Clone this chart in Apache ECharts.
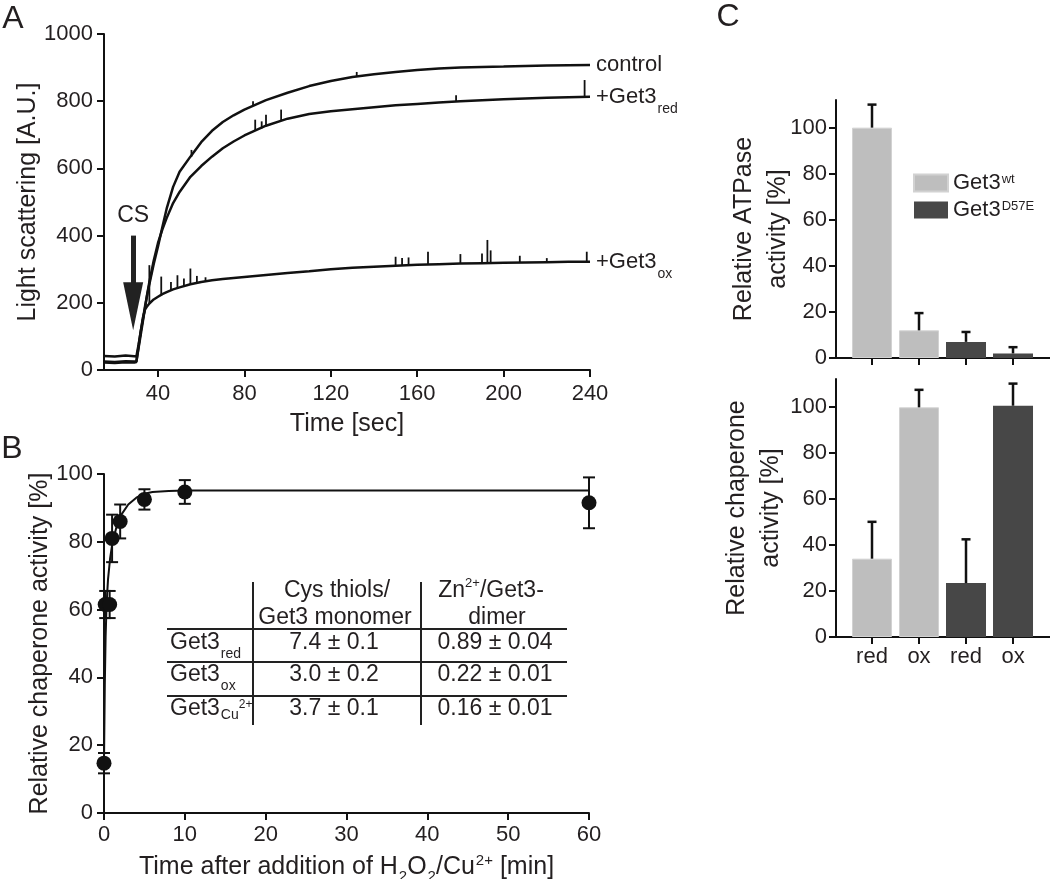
<!DOCTYPE html>
<html><head><meta charset="utf-8">
<script src="https://cdn.jsdelivr.net/npm/echarts@6/dist/echarts.min.js"></script>
<style>html,body{margin:0;padding:0;background:#fff}#c{width:1050px;height:879px}</style>
</head><body><div id="c"></div>
<script>
// ---------- Panel A: light scattering traces ----------
const timeA    = [15, 20, 25, 29, 30, 31, 32, 33, 34, 35, 36, 38, 40, 42, 44, 47, 50, 55, 60, 65, 70, 75, 80, 90, 100, 110, 120, 130, 140, 150, 160, 170, 180, 190, 200, 210, 220, 230, 240];
const controlA = [42, 40, 43, 41, 40, 75, 115, 150, 190, 225, 255, 315, 368, 425, 480, 545, 590, 635, 678, 712, 738, 758, 775, 803, 825, 845, 860, 872, 880, 887, 893, 897, 900, 902, 903, 905, 906, 907, 908];
const redA     = [25, 24, 26, 25, 26, 65, 105, 145, 185, 225, 262, 325, 378, 418, 452, 497, 530, 575, 607, 635, 660, 680, 698, 727, 748, 762, 770, 776, 782, 788, 792, 796, 800, 803, 806, 808, 810, 812, 813];
const oxA      = [22, 21, 23, 22, 24, 70, 115, 155, 180, 190, 198, 210, 218, 226, 232, 240, 246, 255, 262, 267, 271, 274, 277, 283, 289, 294, 300, 304, 307, 310, 313, 315, 317, 318, 319, 320, 321, 322, 322];
// noise spikes: [time, base, top]
const controlSpikes = [[55.5, 635, 655], [84, 786, 800], [132, 873, 887]];
const redSpikes = [[85, 712, 745], [88, 719, 740], [90, 727, 760], [97, 742, 775], [178, 800, 818], [237.5, 813, 863]];
const oxSpikes = [[36, 198, 312], [41.5, 222, 278], [46, 238, 262], [49, 244, 282], [52, 250, 272], [55, 255, 302], [58, 259, 280], [62, 264, 276],
  [150, 310, 337], [153, 311, 333], [156, 312, 335], [165, 315, 352], [180, 317, 345], [190, 318, 347], [192.5, 318, 387], [194, 318, 356], [207.5, 320, 340], [220, 321, 333], [238.5, 322, 352]];
const ticksA = [40, 80, 120, 160, 200, 240];

// ---------- Panel B: chaperone activity vs time ----------
const timeB = [0, 0.15, 0.7, 1, 2, 5, 10, 60];
const meanB = [14.7, 61.5, 61.5, 81, 86, 92.5, 94.7, 91.5];
const errB  = [3, 4, 4, 7, 5, 3, 3.5, 7.5];
const fitT  = [0, 0.1, 0.2, 0.3, 0.4, 0.5, 0.75, 1, 1.5, 2, 3, 4, 5, 6, 8, 10, 15, 60];
const fitV  = [15, 38, 52, 60, 65, 69, 75, 79, 84, 87.5, 91, 93, 94.2, 94.7, 95, 95.1, 95.1, 95.1];
// table
const tableHead1 = ['Cys thiols/', 'Get3 monomer'];
const tableHead2 = ['{m|Zn}{p|2+}{m|/Get3-}', '{m|dimer}'];
const tableRows = ['{m|Get3}{s|red}', '{m|Get3}{s|ox}', '{m|Get3}{s2|Cu}{p2|2+}'];
const cysThiols = ['7.4 ± 0.1', '3.0 ± 0.2', '3.7 ± 0.1'];
const znPerDimer = ['0.89 ± 0.04', '0.22 ± 0.01', '0.16 ± 0.01'];

// ---------- Panel C: bars ----------
const cCats = ['red', 'ox', 'red', 'ox'];
const atpWt = [100, 12], atpWtErr = [10, 7.5];
const atpMut = [7, 2], atpMutErr = [4.3, 2.7];
const chapWt = [34, 99.7], chapWtErr = [16, 7.6];
const chapMut = [23.4, 100.4], chapMutErr = [19, 9.6];
const cTicks = [0, 20, 40, 60, 80, 100];

const FF = "'Liberation Sans', Arial, Helvetica, sans-serif";
const TXT = '#231f20';
const INK = '#111';

function richSet(fs) {
  return {
    m: {fontSize: fs, fontFamily: FF, color: TXT, fill: TXT, verticalAlign: 'top', padding: [8, 0, 8, 0]},
    s: {fontSize: 14, fontFamily: FF, color: TXT, fill: TXT, verticalAlign: 'top', padding: [24, 0, 0, 1]},
    s2: {fontSize: 14, fontFamily: FF, color: TXT, fill: TXT, verticalAlign: 'top', padding: [19, 0, 0, 1]},
    p2: {fontSize: 12, fontFamily: FF, color: TXT, fill: TXT, verticalAlign: 'top', padding: [9, 0, 0, 0]},
    p: {fontSize: 13, fontFamily: FF, color: TXT, fill: TXT, verticalAlign: 'top', padding: [5, 0, 0, 0]}
  };
}
const richBase = richSet(22);
const richTable = richSet(23);

function axisBase() {
  return {
    axisLine: {show: true, onZero: false, lineStyle: {color: INK, width: 2}},
    axisTick: {show: true, inside: false, length: 7, lineStyle: {color: INK, width: 2}},
    axisLabel: {color: TXT, fontSize: 22, fontFamily: FF, margin: 11, formatter: v => String(v)},
    splitLine: {show: false},
    nameLocation: 'middle',
    nameTextStyle: {color: TXT, fontSize: 25, fontFamily: FF}
  };
}
function mk(extra) {
  const b = axisBase();
  for (const k in extra) {
    if (b[k] && typeof b[k] === 'object' && !Array.isArray(b[k]) && typeof extra[k] === 'object') b[k] = Object.assign({}, b[k], extra[k]);
    else b[k] = extra[k];
  }
  return b;
}

function errRender(cap, both, lw) {
  return function (params, api) {
    const x = api.value(0), lo = api.value(1), hi = api.value(2);
    const a = api.coord([x, lo]), b = api.coord([x, hi]);
    const st = {stroke: INK, lineWidth: lw};
    const ch = [{type: 'line', shape: {x1: a[0], y1: a[1], x2: b[0], y2: b[1]}, style: st}];
    if (cap) {
      ch.push({type: 'line', shape: {x1: b[0] - cap / 2, y1: b[1], x2: b[0] + cap / 2, y2: b[1]}, style: st});
      if (both) ch.push({type: 'line', shape: {x1: a[0] - cap / 2, y1: a[1], x2: a[0] + cap / 2, y2: a[1]}, style: st});
    }
    return {type: 'group', children: ch};
  };
}

const pairs = (xs, ys) => xs.map((x, i) => [x, ys[i]]);
const lineA = (name, vals, label) => ({
  type: 'line', name: name, xAxisIndex: 0, yAxisIndex: 0, data: pairs(timeA, vals),
  showSymbol: false, symbol: 'none', lineStyle: {color: INK, width: 2.5}, itemStyle: {color: INK}, silent: true,
  endLabel: {show: true, formatter: label, distance: 6, color: TXT, fontSize: 22, fontFamily: FF, rich: richBase}
});

const seriesA_ox = lineA('ox', oxA, '{m|+Get3}{s|ox}');
seriesA_ox.markLine = {
  silent: true, animation: false,
  symbol: ['none', 'triangle'],
  lineStyle: {color: '#222', width: 5, type: 'solid'},
  label: {show: true, position: 'start', formatter: 'CS', color: TXT, fontSize: 23, fontFamily: FF, distance: 8},
  data: [[{coord: [28.5, 400], symbol: 'none'}, {coord: [28.5, 190], symbol: 'triangle', symbolSize: [20, 48], itemStyle: {color: '#222'}}]]
};

const gText = (x, y, text, align, size, rich) => ({
  type: 'text', x: x, y: y, silent: true,
  style: {text: text, fill: TXT, fontSize: size || 23, fontFamily: FF, align: align || 'center', verticalAlign: 'middle', rich: rich || richTable}
});
const gLine = (x1, y1, x2, y2) => ({type: 'line', silent: true, shape: {x1, y1, x2, y2}, style: {stroke: '#222', lineWidth: 2}});

const tableRowY = [643, 675, 709];
const graphic = [
  gText(13, 19, 'A', 'center', 32),
  gText(12, 449, 'B', 'center', 32),
  gText(728, 17, 'C', 'center', 32),
  gLine(253, 582, 253, 725), gLine(421, 582, 421, 725),
  gLine(167, 629, 567, 629), gLine(167, 662, 567, 662), gLine(167, 696, 567, 696),
  gText(337, 591, tableHead1[0]), gText(335, 618, tableHead1[1]),
  gText(491, 591, tableHead2[0]), gText(497, 618, tableHead2[1])
];
tableRows.forEach((r, i) => {
  graphic.push(gText(170, tableRowY[i], r, 'left'));
  graphic.push(gText(334, tableRowY[i], cysThiols[i]));
  graphic.push(gText(495, tableRowY[i], znPerDimer[i]));
});

const cX = [1, 2, 3, 4];
const option = {
  animation: false,
  backgroundColor: '#fff',
  textStyle: {fontFamily: FF},
  grid: [
    {left: 104, top: 34, width: 486, height: 336, outerBoundsMode: 'none'},
    {left: 104, top: 474, width: 485, height: 339, outerBoundsMode: 'none'},
    {left: 836, top: 100, width: 214, height: 258, outerBoundsMode: 'none'},
    {left: 836, top: 379, width: 214, height: 258, outerBoundsMode: 'none'}
  ],
  xAxis: [
    mk({type: 'value', gridIndex: 0, min: 15, max: 240, name: 'Time [sec]', nameGap: 42,
      axisLabel: {customValues: ticksA, margin: 13}, axisTick: {customValues: ticksA}}),
    mk({type: 'value', gridIndex: 1, min: 0, max: 60, interval: 10, nameGap: 34,
      name: '{m|Time after addition of H}{s|2}{m|O}{s|2}{m|/Cu}{p|2+}{m| [min]}',
      nameTextStyle: {rich: {
        m: {fontSize: 25, fontFamily: FF, color: TXT, verticalAlign: 'top', padding: [8, 0, 8, 0]},
        s: {fontSize: 15, fontFamily: FF, color: TXT, verticalAlign: 'top', padding: [22, 0, 0, 1]},
        p: {fontSize: 15, fontFamily: FF, color: TXT, verticalAlign: 'top', padding: [6, 0, 0, 1]}
      }}}),
    mk({type: 'value', gridIndex: 2, min: 0.234, max: 4.787,
      axisLabel: {show: false}, axisTick: {customValues: cX}}),
    mk({type: 'value', gridIndex: 3, min: 0.234, max: 4.787,
      axisLabel: {customValues: cX, margin: 9, formatter: v => cCats[Math.round(v) - 1] || ''}, axisTick: {customValues: cX}})
  ],
  yAxis: [
    mk({type: 'value', gridIndex: 0, min: 0, max: 1000, interval: 200, name: 'Light scattering [A.U.]', nameRotate: 90, nameGap: 57}),
    mk({type: 'value', gridIndex: 1, min: 0, max: 100, interval: 20, name: 'Relative chaperone activity [%]', nameRotate: 90, nameGap: 50}),
    mk({type: 'value', gridIndex: 2, min: 0, max: 112, name: 'Relative ATPase\nactivity [%]', nameRotate: 90, nameGap: 41, nameMoveOverlap: false,
      nameTextStyle: {lineHeight: 34}, axisLabel: {customValues: cTicks, margin: 9}, axisTick: {customValues: cTicks}}),
    mk({type: 'value', gridIndex: 3, min: 0, max: 112, name: 'Relative chaperone\nactivity [%]', nameRotate: 90, nameGap: 48, nameMoveOverlap: false,
      nameTextStyle: {lineHeight: 34}, axisLabel: {customValues: cTicks, margin: 9}, axisTick: {customValues: cTicks}})
  ],
  legend: {
    left: 913, top: 172, padding: 0, orient: 'vertical', itemWidth: 34, itemHeight: 17, itemGap: 5, icon: 'rect',
    data: ['wt', 'D57E'], selectedMode: false,
    formatter: n => '{m|Get3}{q|' + n + '}',
    textStyle: {color: TXT, fontSize: 22, fontFamily: FF, rich: {
      m: {fontSize: 22, fontFamily: FF, color: TXT, verticalAlign: 'top'},
      q: {fontSize: 13, fontFamily: FF, color: TXT, verticalAlign: 'top', padding: [1, 0, 0, 1]}
    }}
  },
  graphic: graphic,
  series: [
    lineA('control', controlA, '{m|control}'),
    lineA('red', redA, '{m|+Get3}{s|red}'),
    seriesA_ox,
    {type: 'custom', name: 'spikes', xAxisIndex: 0, yAxisIndex: 0, silent: true, z: 3,
      renderItem: errRender(0, false, 1.8), data: controlSpikes.concat(redSpikes, oxSpikes)},
    // Panel B
    {type: 'line', name: 'fit', xAxisIndex: 1, yAxisIndex: 1, data: pairs(fitT, fitV), showSymbol: false, symbol: 'none',
      lineStyle: {color: INK, width: 2}, silent: true},
    {type: 'custom', name: 'errB', xAxisIndex: 1, yAxisIndex: 1, silent: true, z: 4,
      renderItem: errRender(12, true, 2), data: timeB.map((t, i) => [t, meanB[i] - errB[i], meanB[i] + errB[i]])},
    {type: 'scatter', name: 'pts', xAxisIndex: 1, yAxisIndex: 1, symbol: 'circle', symbolSize: 15, silent: true, z: 5,
      itemStyle: {color: INK, opacity: 1}, data: pairs(timeB, meanB)},
    // Panel C top
    {type: 'bar', name: 'wt', xAxisIndex: 2, yAxisIndex: 2, barWidth: 40, barGap: '-100%', silent: true,
      itemStyle: {color: '#bebebe', borderColor: '#d2d2d2', borderWidth: 1}, data: pairs([1, 2], atpWt)},
    {type: 'bar', name: 'D57E', xAxisIndex: 2, yAxisIndex: 2, barWidth: 40, barGap: '-100%', silent: true,
      itemStyle: {color: '#474747'}, data: pairs([3, 4], atpMut)},
    {type: 'custom', name: 'errC1', xAxisIndex: 2, yAxisIndex: 2, silent: true, z: 5, renderItem: errRender(9, false, 2.5),
      data: [[1, atpWt[0], atpWt[0] + atpWtErr[0]], [2, atpWt[1], atpWt[1] + atpWtErr[1]], [3, atpMut[0], atpMut[0] + atpMutErr[0]], [4, atpMut[1], atpMut[1] + atpMutErr[1]]]},
    // Panel C bottom
    {type: 'bar', name: 'wt', xAxisIndex: 3, yAxisIndex: 3, barWidth: 40, barGap: '-100%', silent: true,
      itemStyle: {color: '#bebebe', borderColor: '#d2d2d2', borderWidth: 1}, data: pairs([1, 2], chapWt)},
    {type: 'bar', name: 'D57E', xAxisIndex: 3, yAxisIndex: 3, barWidth: 40, barGap: '-100%', silent: true,
      itemStyle: {color: '#474747'}, data: pairs([3, 4], chapMut)},
    {type: 'custom', name: 'errC2', xAxisIndex: 3, yAxisIndex: 3, silent: true, z: 5, renderItem: errRender(9, false, 2.5),
      data: [[1, chapWt[0], chapWt[0] + chapWtErr[0]], [2, chapWt[1], chapWt[1] + chapWtErr[1]], [3, chapMut[0], chapMut[0] + chapMutErr[0]], [4, chapMut[1], chapMut[1] + chapMutErr[1]]]}
  ]
};
const chart = echarts.init(document.getElementById('c'), null, {renderer: 'canvas'});
chart.setOption(option);
</script>
</body></html>
